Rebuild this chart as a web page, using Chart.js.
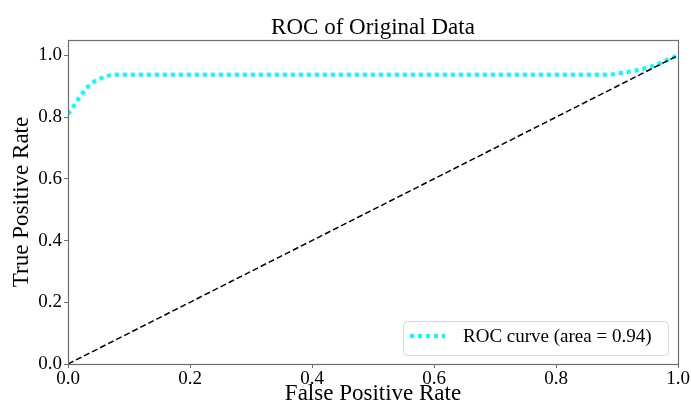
<!DOCTYPE html>
<html>
<head>
<meta charset="utf-8">
<script src="https://cdn.jsdelivr.net/npm/chart.js@4.4.0/dist/chart.umd.min.js"></script>
<style>
  html, body { margin: 0; padding: 0; background: #fff; }
  canvas { display: block; }
</style>
</head>
<body>
<canvas id="roc" width="691" height="408"></canvas>
<script>
// ROC curve
const fpr = [0, 0.008, 0.015, 0.022, 0.030, 0.039, 0.050, 0.062, 0.075, 0.88, 0.91, 0.935, 0.958, 0.98, 1.0];
const tpr = [0.81, 0.832, 0.853, 0.873, 0.893, 0.91, 0.922, 0.932, 0.937, 0.937, 0.944, 0.953, 0.965, 0.983, 1.0];
const chanceX = [0, 1];
const chanceY = [0, 1];
const xTicks = [0, 0.2, 0.4, 0.6, 0.8, 1.0];
const yTicks = [0, 0.2, 0.4, 0.6, 0.8, 1.0];
const rocLabel = 'ROC curve (area = 0.94)';

const FONT = "'Liberation Serif', 'DejaVu Serif', serif";
const SPINE = '#6e6e6e';

// title centred on the plot area, like matplotlib
const titlePlugin = {
  id: 'axTitle',
  afterDraw(chart) {
    const { ctx, chartArea } = chart;
    ctx.save();
    ctx.font = `23px ${FONT}`;
    ctx.fillStyle = '#000';
    ctx.textAlign = 'center';
    ctx.textBaseline = 'alphabetic';
    ctx.fillText('ROC of Original Data', (chartArea.left + chartArea.right) / 2, 34);
    ctx.restore();
  }
};

// frame around the axes
const framePlugin = {
  id: 'frame',
  afterDatasetsDraw(chart) {
    const { ctx, chartArea: a } = chart;
    ctx.save();
    ctx.strokeStyle = SPINE;
    ctx.lineWidth = 1.2;
    ctx.strokeRect(a.left + 0.5, a.top + 0.5, a.right - a.left, a.bottom - a.top);
    ctx.restore();
  }
};

// legend box in the lower right corner
const legendPlugin = {
  id: 'boxLegend',
  afterDraw(chart) {
    const { ctx, chartArea: a } = chart;
    const w = 265, h = 34;
    const x = a.right - 10 - w, y = a.bottom - 9 - h;
    ctx.save();
    ctx.fillStyle = 'rgba(255,255,255,0.8)';
    ctx.strokeStyle = '#d6d6d6';
    ctx.lineWidth = 1;
    ctx.beginPath();
    ctx.roundRect(x + 0.5, y + 0.5, w, h, 4);
    ctx.fill();
    ctx.stroke();
    ctx.strokeStyle = 'cyan';
    ctx.lineWidth = 4;
    ctx.setLineDash([4, 4]);
    ctx.beginPath();
    ctx.moveTo(x + 7, y + 15);
    ctx.lineTo(x + 42, y + 15);
    ctx.stroke();
    ctx.setLineDash([]);
    ctx.font = `19px ${FONT}`;
    ctx.fillStyle = '#000';
    ctx.textBaseline = 'middle';
    ctx.fillText(rocLabel, x + 60, y + 16);
    ctx.restore();
  }
};

new Chart(document.getElementById('roc'), {
  type: 'scatter',
  data: {
    datasets: [
      {
        label: 'chance',
        data: chanceX.map((x, i) => ({ x, y: chanceY[i] })),
        showLine: true,
        borderColor: '#000',
        borderWidth: 1.5,
        borderDash: [6, 3],
        pointRadius: 0
      },
      {
        label: rocLabel,
        data: fpr.map((x, i) => ({ x, y: tpr[i] })),
        showLine: true,
        borderColor: 'cyan',
        borderWidth: 4,
        borderDash: [4, 4],
        pointRadius: 0,
        tension: 0.3,
        cubicInterpolationMode: 'monotone'
      }
    ]
  },
  options: {
    responsive: false,
    animation: false,
    layout: { padding: { top: 40, right: 13, left: 0, bottom: 0 } },
    plugins: {
      legend: { display: false },
      tooltip: { enabled: false },
      title: { display: false }
    },
    scales: {
      x: {
        type: 'linear',
        min: 0,
        max: 1,
        afterFit: (s) => { s.height = 44; },
        afterBuildTicks: (s) => { s.ticks = xTicks.map(v => ({ value: v })); },
        ticks: {
          callback: (v) => v.toFixed(1),
          font: { family: FONT, size: 19 },
          color: '#000',
          padding: 0,
          maxRotation: 0
        },
        grid: { display: true, drawOnChartArea: false, drawTicks: true, tickLength: 4, color: SPINE },
        border: { display: true, color: SPINE },
        title: {
          display: true,
          text: 'False Positive Rate',
          font: { family: FONT, size: 23 },
          color: '#000',
          padding: { top: 0, bottom: 0 }
        }
      },
      y: {
        type: 'linear',
        min: 0,
        max: 1.05,
        afterFit: (s) => { s.width = 68; },
        afterBuildTicks: (s) => { s.ticks = yTicks.map(v => ({ value: v })); },
        ticks: {
          callback: (v) => v.toFixed(1),
          font: { family: FONT, size: 19 },
          color: '#000',
          padding: 2
        },
        grid: { display: true, drawOnChartArea: false, drawTicks: true, tickLength: 4, color: SPINE },
        border: { display: true, color: SPINE },
        title: {
          display: true,
          text: 'True Positive Rate',
          font: { family: FONT, size: 23 },
          color: '#000',
          padding: { top: 8, bottom: 0 }
        }
      }
    }
  },
  plugins: [titlePlugin, framePlugin, legendPlugin]
});
</script>
</body>
</html>
